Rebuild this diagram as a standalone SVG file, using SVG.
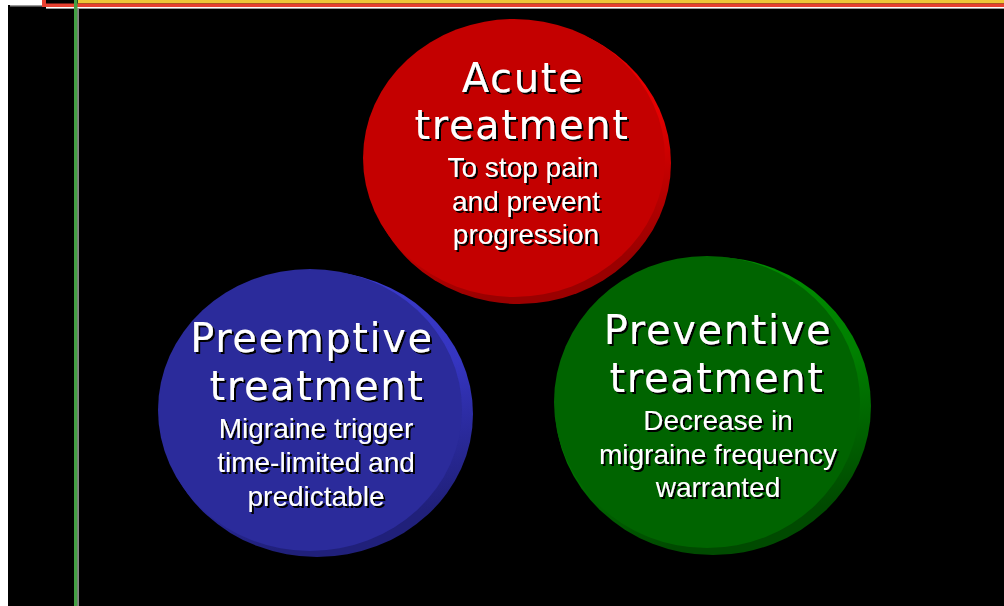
<svg xmlns="http://www.w3.org/2000/svg" width="1004" height="606" viewBox="0 0 1004 606">
<defs>
<linearGradient id="rimRed" x1="0" y1="0" x2="0.3" y2="1"><stop offset="0" stop-color="#f20000"/><stop offset="0.55" stop-color="#e40000"/><stop offset="1" stop-color="#9a0000"/></linearGradient>
<linearGradient id="rimBlue" x1="0" y1="0" x2="0.3" y2="1"><stop offset="0" stop-color="#3c3cd0"/><stop offset="0.55" stop-color="#3535c0"/><stop offset="1" stop-color="#20207a"/></linearGradient>
<linearGradient id="rimGreen" x1="0" y1="0" x2="0.3" y2="1"><stop offset="0" stop-color="#009000"/><stop offset="0.55" stop-color="#008000"/><stop offset="1" stop-color="#004a00"/></linearGradient>
<filter id="sh" x="-10%" y="-20%" width="130%" height="150%"><feDropShadow dx="2" dy="2" stdDeviation="0.4" flood-color="#000" flood-opacity="1"/></filter>
</defs>
<style>
.title{font-family:"DejaVu Sans",sans-serif;font-size:40px;fill:#fff;text-anchor:middle;letter-spacing:1.6px;filter:url(#sh)}
.sub{font-family:"Liberation Sans",Arial,sans-serif;font-size:28px;fill:#fff;text-anchor:middle;filter:url(#sh)}
</style>
<rect x="0" y="0" width="1004" height="606" fill="#fff"/>
<rect x="8" y="0" width="996" height="606" fill="#000"/>
<!-- frame lines -->
<rect x="0" y="0" width="42" height="5" fill="#fff"/>
<rect x="10" y="5" width="32" height="1.5" fill="#999"/>
<rect x="42" y="0" width="4" height="7" fill="#e84030"/>
<rect x="78" y="0" width="926" height="3.5" fill="#f0c838"/>
<rect x="42" y="3.5" width="962" height="3.5" fill="#e84030"/>
<rect x="46" y="7" width="958" height="1" fill="#fff"/>
<rect x="46" y="8" width="958" height="1" fill="#999"/>
<rect x="74" y="0" width="3.5" height="606" fill="#44a044"/>
<rect x="77.5" y="9" width="1.2" height="597" fill="#bbb"/>
<g id="preemptive">
<ellipse cx="317" cy="414" rx="156" ry="143" fill="url(#rimBlue)"/>
<ellipse cx="310" cy="410" rx="152" ry="141" fill="#2b2b9b"/>
<text class="title" x="312" y="352">Preemptive</text>
<text class="title" x="317" y="400">treatment</text>
<text class="sub" x="316" y="438">Migraine trigger</text>
<text class="sub" x="316" y="472">time-limited and</text>
<text class="sub" x="316" y="506">predictable</text>
</g>
<g id="preventive">
<ellipse cx="713" cy="406" rx="158" ry="149" fill="url(#rimGreen)"/>
<ellipse cx="707" cy="402" rx="153" ry="146" fill="#006400"/>
<text class="title" x="718" y="344">Preventive</text>
<text class="title" x="717" y="392">treatment</text>
<text class="sub" x="718" y="430">Decrease in</text>
<text class="sub" x="718" y="464">migraine frequency</text>
<text class="sub" x="718" y="497">warranted</text>
</g>
<g id="acute">
<ellipse cx="519" cy="163" rx="152" ry="141" fill="url(#rimRed)"/>
<ellipse cx="514" cy="158" rx="151" ry="139" fill="#c40000"/>
<text class="title" x="523" y="92">Acute</text>
<text class="title" x="522" y="139">treatment</text>
<text class="sub" x="523" y="177">To stop pain</text>
<text class="sub" x="526" y="211">and prevent</text>
<text class="sub" x="526" y="244">progression</text>
</g>
<g id="connectors"></g>
</svg>
